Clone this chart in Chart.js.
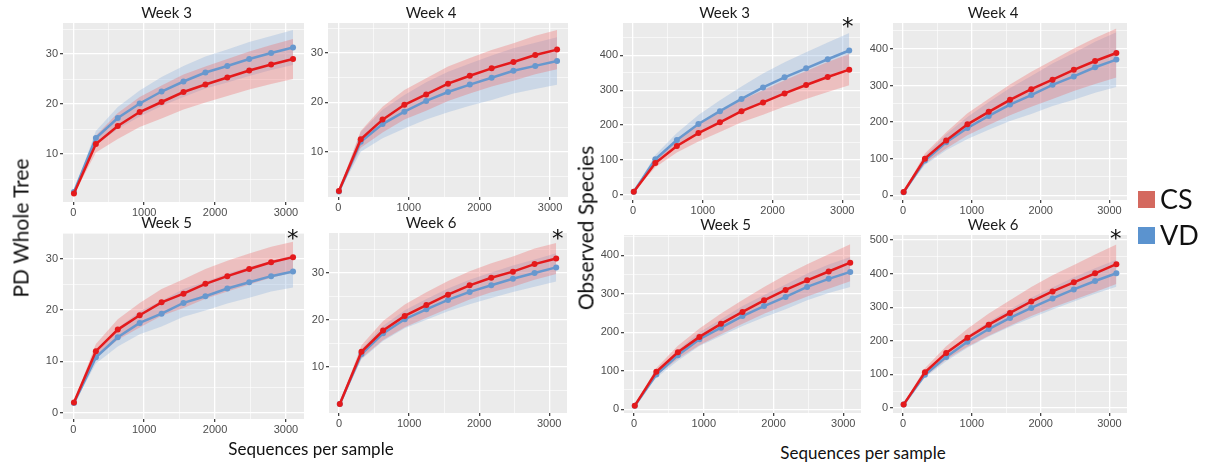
<!DOCTYPE html>
<html>
<head>
<meta charset="utf-8">
<script src="https://cdn.jsdelivr.net/npm/chart.js@4.4.1/dist/chart.umd.min.js"></script>
<style>
  body { margin: 0; background: #fff; width: 1209px; height: 465px; position: relative; overflow: hidden; }
  .panel { position: absolute; }
  .txt { position: absolute; font-family: Lato, "Open Sans", sans-serif; color: #111; white-space: nowrap; }
  .star { position: absolute; font-family: "DejaVu Sans", sans-serif; font-size: 23px; color: #111; z-index: 5; }
  .sq { position: absolute; width: 17px; height: 17px; }
</style>
</head>
<body>
<div id="wrap"></div>
<div class="txt" style="left:20px;top:228px;font-size:21px;transform:translate(-50%,-50%) rotate(-90deg);">PD Whole Tree</div>
<div class="txt" style="left:585px;top:228px;font-size:21px;transform:translate(-50%,-50%) rotate(-90deg);">Observed Species</div>
<div class="txt" style="left:311px;top:448px;font-size:17px;transform:translate(-50%,-50%);">Sequences per sample</div>
<div class="txt" style="left:863px;top:452px;font-size:17px;transform:translate(-50%,-50%);">Sequences per sample</div>
<div class="sq" style="left:1138px;top:191px;background:#d4695f;"></div>
<div class="txt" style="left:1160px;top:182px;font-size:27px;">CS</div>
<div class="sq" style="left:1138px;top:227px;background:#5b93cf;"></div>
<div class="txt" style="left:1160px;top:218px;font-size:27px;">VD</div>
<div class="star" style="left:842px;top:13px;">*</div>
<div class="star" style="left:287px;top:225px;">*</div>
<div class="star" style="left:552px;top:225px;">*</div>
<div class="star" style="left:1110px;top:225px;">*</div>
<script>
// sequences per sample (rarefaction depths)
const depth = [10, 319, 628, 937, 1246, 1555, 1864, 2173, 2482, 2791, 3100];

// tick positions (labels only on the major ones)
const xTicks = [0, 500, 1000, 1500, 2000, 2500, 3000];
const pdTicks = [0, 5, 10, 15, 20, 25, 30, 35];
const osTicks = [0, 50, 100, 150, 200, 250, 300, 350, 400, 450, 500];

// PD Whole Tree: mean and sd per group
const pdW3CS   = [2.1, 12.0, 15.6, 18.4, 20.4, 22.4, 23.9, 25.3, 26.7, 27.9, 29.0];
const pdW3CSsd = [0.2, 1.7, 2.6, 3.0, 3.3, 3.5, 3.6, 3.7, 3.8, 3.9, 4.0];
const pdW3VD   = [2.4, 13.2, 17.2, 20.1, 22.5, 24.5, 26.3, 27.6, 29.0, 30.2, 31.3];
const pdW3VDsd = [0.2, 1.4, 2.2, 2.6, 2.9, 3.1, 3.2, 3.3, 3.4, 3.4, 3.5];

const pdW4CS   = [2.0, 12.5, 16.5, 19.5, 21.6, 23.8, 25.4, 26.9, 28.2, 29.6, 30.7];
const pdW4CSsd = [0.2, 1.7, 2.6, 3.0, 3.3, 3.5, 3.6, 3.7, 3.8, 3.9, 4.0];
const pdW4VD   = [1.9, 12.0, 15.6, 18.1, 20.3, 22.1, 23.6, 25.0, 26.4, 27.4, 28.4];
const pdW4VDsd = [0.2, 2.0, 2.9, 3.4, 3.8, 4.1, 4.3, 4.5, 4.6, 4.7, 4.8];

const pdW5CS   = [2.0, 12.0, 16.2, 19.0, 21.5, 23.2, 25.1, 26.6, 28.0, 29.3, 30.3];
const pdW5CSsd = [0.2, 1.4, 2.0, 2.4, 2.6, 2.8, 2.9, 3.0, 3.0, 3.0, 3.0];
const pdW5VD   = [1.9, 10.8, 14.7, 17.5, 19.3, 21.4, 22.7, 24.2, 25.4, 26.6, 27.5];
const pdW5VDsd = [0.2, 1.2, 1.8, 2.2, 2.5, 2.7, 2.8, 2.9, 3.0, 3.0, 3.1];

const pdW6CS   = [2.1, 13.2, 17.7, 20.8, 23.1, 25.3, 27.3, 28.9, 30.2, 31.8, 33.0];
const pdW6CSsd = [0.2, 1.4, 2.0, 2.4, 2.7, 2.9, 3.0, 3.1, 3.2, 3.3, 3.3];
const pdW6VD   = [2.1, 12.7, 17.1, 20.1, 22.2, 24.2, 25.9, 27.3, 28.7, 29.9, 31.1];
const pdW6VDsd = [0.2, 1.1, 1.6, 1.9, 2.2, 2.4, 2.6, 2.7, 2.8, 2.9, 3.0];

// Observed Species: mean and sd per group
const osW3CS   = [9, 91, 140, 177, 208, 240, 265, 291, 315, 338, 359];
const osW3CSsd = [1, 12, 19, 24, 28, 32, 35, 38, 40, 43, 45];
const osW3VD   = [9, 102, 157, 203, 240, 275, 308, 337, 363, 389, 414];
const osW3VDsd = [1, 12, 20, 26, 31, 36, 40, 43, 46, 48, 50];

const osW4CS   = [9, 100, 150, 194, 228, 261, 290, 316, 343, 367, 389];
const osW4CSsd = [1, 14, 22, 30, 36, 42, 48, 53, 58, 63, 67];
const osW4VD   = [8, 95, 145, 184, 217, 248, 274, 302, 325, 350, 371];
const osW4VDsd = [1, 12, 22, 30, 38, 45, 52, 58, 64, 70, 75];

const osW5CS   = [9, 97, 148, 188, 222, 253, 283, 310, 335, 358, 381];
const osW5CSsd = [1, 10, 17, 22, 27, 31, 35, 39, 42, 45, 48];
const osW5VD   = [9, 90, 140, 182, 212, 242, 268, 292, 318, 339, 357];
const osW5VDsd = [1, 8, 14, 18, 22, 26, 29, 32, 35, 37, 39];

const osW6CS   = [10, 106, 164, 209, 248, 283, 317, 347, 374, 401, 428];
const osW6CSsd = [1, 12, 20, 27, 33, 38, 43, 48, 52, 56, 59];
const osW6VD   = [10, 99, 152, 197, 235, 268, 298, 326, 353, 378, 401];
const osW6VDsd = [1, 8, 13, 18, 22, 26, 30, 33, 36, 38, 40];

const RED = 'rgb(228,26,28)';
const BLUE = 'rgb(104,152,206)';
const RED_BAND = 'rgba(238,100,100,0.32)';
const BLUE_BAND = 'rgba(130,170,220,0.30)';

const Y_AXIS_W = 34, X_AXIS_H = 20, TITLE_H = 22, PAD_R = 4;

// box = plot area [left, top, right, bottom] in page pixels
const panels = [
  { title: 'Week 3', cs: pdW3CS, csSd: pdW3CSsd, vd: pdW3VD, vdSd: pdW3VDsd, ymin: 0.4, ymax: 36.2, yt: pdTicks, major: 10, box: [63, 23, 304, 202] },
  { title: 'Week 4', cs: pdW4CS, csSd: pdW4CSsd, vd: pdW4VD, vdSd: pdW4VDsd, ymin: 0.8, ymax: 36.1, yt: pdTicks, major: 10, box: [328, 23, 568, 197] },
  { title: 'Week 5', cs: pdW5CS, csSd: pdW5CSsd, vd: pdW5VD, vdSd: pdW5VDsd, ymin: -1.2, ymax: 35.0, yt: pdTicks, major: 10, box: [63, 233, 304, 419] },
  { title: 'Week 6', cs: pdW6CS, csSd: pdW6CSsd, vd: pdW6VD, vdSd: pdW6VDsd, ymin: 0.2, ymax: 38.4, yt: pdTicks, major: 10, box: [329, 233, 567, 413] },
  { title: 'Week 3', cs: osW3CS, csSd: osW3CSsd, vd: osW3VD, vdSd: osW3VDsd, ymin: -15, ymax: 493, yt: osTicks, major: 100, box: [623, 23, 860, 200] },
  { title: 'Week 4', cs: osW4CS, csSd: osW4CSsd, vd: osW4VD, vdSd: osW4VDsd, ymin: -13, ymax: 471, yt: osTicks, major: 100, box: [893, 23, 1127, 200] },
  { title: 'Week 5', cs: osW5CS, csSd: osW5CSsd, vd: osW5VD, vdSd: osW5VDsd, ymin: -10, ymax: 453, yt: osTicks, major: 100, box: [624, 235, 861, 413] },
  { title: 'Week 6', cs: osW6CS, csSd: osW6CSsd, vd: osW6VD, vdSd: osW6VDsd, ymin: -15, ymax: 515, yt: osTicks, major: 100, box: [893, 235, 1127, 413] }
];

const panelBg = {
  id: 'panelBg',
  beforeDraw(chart) {
    const a = chart.chartArea, c = chart.ctx;
    c.save();
    c.fillStyle = '#ebebeb';
    c.fillRect(a.left, a.top, a.right - a.left, a.bottom - a.top);
    c.restore();
  }
};

function pts(ys) { return depth.map((x, i) => ({ x: x, y: ys[i] })); }
function shift(ys, sd, sign) { return depth.map((x, i) => ({ x: x, y: ys[i] + sign * sd[i] })); }

const tickFont = { family: '"Liberation Sans", Arial, sans-serif', size: 11 };

function isMajor(ctx, step) { return ctx.tick && ctx.tick.value % step === 0; }

panels.forEach(p => {
  const [L, T, R, B] = p.box;
  const div = document.createElement('div');
  div.className = 'panel';
  const w = (R - L) + Y_AXIS_W + PAD_R, h = (B - T) + TITLE_H + X_AXIS_H;
  div.style.left = (L - Y_AXIS_W) + 'px';
  div.style.top = (T - TITLE_H) + 'px';
  div.style.width = w + 'px';
  div.style.height = h + 'px';
  const cv = document.createElement('canvas');
  div.appendChild(cv);
  document.getElementById('wrap').appendChild(div);

  new Chart(cv, {
    type: 'line',
    data: {
      datasets: [
        { label: 'CS', data: pts(p.cs), borderColor: RED, backgroundColor: RED, borderWidth: 2.5, pointRadius: 3, pointBorderWidth: 0, fill: false },
        { label: 'VD', data: pts(p.vd), borderColor: BLUE, backgroundColor: BLUE, borderWidth: 2.5, pointRadius: 3, pointBorderWidth: 0, fill: false },
        { label: 'CS hi', data: shift(p.cs, p.csSd, 1), borderWidth: 0, pointRadius: 0, backgroundColor: RED_BAND, fill: '+1' },
        { label: 'CS lo', data: shift(p.cs, p.csSd, -1), borderWidth: 0, pointRadius: 0, fill: false },
        { label: 'VD hi', data: shift(p.vd, p.vdSd, 1), borderWidth: 0, pointRadius: 0, backgroundColor: BLUE_BAND, fill: '+1' },
        { label: 'VD lo', data: shift(p.vd, p.vdSd, -1), borderWidth: 0, pointRadius: 0, fill: false }
      ]
    },
    options: {
      responsive: true,
      maintainAspectRatio: false,
      animation: false,
      layout: { padding: { left: 0, right: PAD_R, top: 0, bottom: 0 } },
      plugins: {
        legend: { display: false },
        tooltip: { enabled: false },
        title: {
          display: true,
          text: p.title,
          color: '#1a1a1a',
          font: { family: 'Lato, "Open Sans", sans-serif', size: 15, weight: 'normal', lineHeight: 1.2 },
          padding: { top: 3, bottom: 1 }
        }
      },
      scales: {
        x: {
          type: 'linear',
          min: -144.5,
          max: 3254.5,
          border: { display: false },
          grid: {
            color: '#ffffff',
            lineWidth: ctx => isMajor(ctx, 1000) ? 1.3 : 0.6,
            tickColor: ctx => isMajor(ctx, 1000) ? '#444' : 'rgba(0,0,0,0)',
            tickLength: 3
          },
          ticks: {
            autoSkip: false,
            maxRotation: 0,
            padding: 1,
            color: '#4d4d4d',
            font: tickFont,
            callback: v => (v % 1000 === 0 ? String(v) : '')
          },
          afterBuildTicks: s => { s.ticks = xTicks.map(v => ({ value: v })); },
          afterFit: s => { s.height = X_AXIS_H; }
        },
        y: {
          min: p.ymin,
          max: p.ymax,
          border: { display: false },
          grid: {
            color: '#ffffff',
            lineWidth: ctx => isMajor(ctx, p.major) ? 1.3 : 0.6,
            tickColor: ctx => isMajor(ctx, p.major) ? '#444' : 'rgba(0,0,0,0)',
            tickLength: 3
          },
          ticks: {
            autoSkip: false,
            padding: 2,
            color: '#4d4d4d',
            font: tickFont,
            callback: v => (v % p.major === 0 ? String(v) : '')
          },
          afterBuildTicks: s => { s.ticks = p.yt.filter(v => v >= p.ymin && v <= p.ymax).map(v => ({ value: v })); },
          afterFit: s => { s.width = Y_AXIS_W; }
        }
      }
    },
    plugins: [panelBg]
  });
});
</script>
</body>
</html>
